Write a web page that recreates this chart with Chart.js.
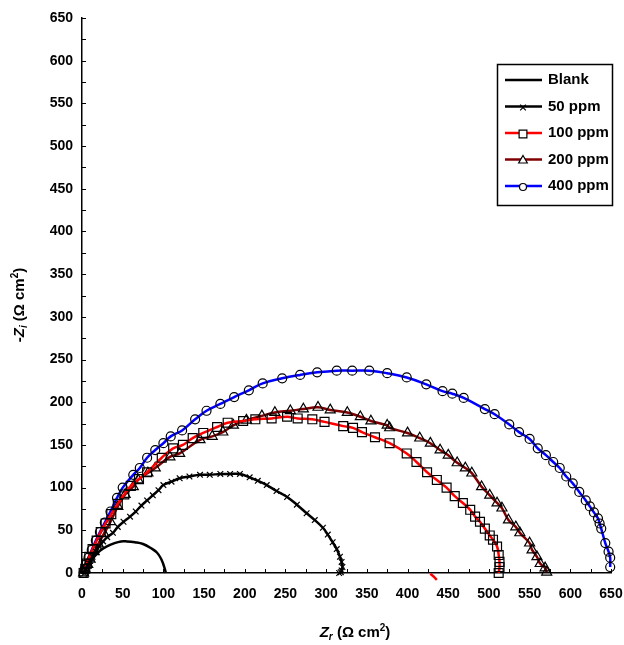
<!DOCTYPE html>
<html>
<head>
<meta charset="utf-8">
<title>Nyquist plot</title>
<script src="https://cdn.jsdelivr.net/npm/chart.js@4.4.1/dist/chart.umd.min.js"></script>
<style>
  html, body { margin: 0; padding: 0; background: #fff; }
  #wrap { width: 624px; height: 645px; }
</style>
</head>
<body>
<div id="wrap"><canvas id="chart" width="624" height="645"></canvas></div>
<script>
'use strict'

// Nyquist plots: Zr and -Zi in ohm cm2

// Global Variables
let seriesNames = ['Blank', '50 ppm', '100 ppm', '200 ppm', '400 ppm'];
let axisTicks = [0, 50, 100, 150, 200, 250, 300, 350, 400, 450, 500, 550, 600, 650];

let blankZr = [2, 4, 8, 15, 22, 30, 40, 48, 55, 65, 75, 85, 92, 97, 100, 102, 103];
let blankZi = [0, 4, 10, 19, 26, 31, 35, 37, 37, 36, 34, 29, 24, 17, 10, 4, 0];

let ppm50Zr = [3, 5, 7, 10, 13, 17, 21, 26, 31, 38, 44, 51, 59, 66, 73, 80, 87, 94, 100, 110, 120, 132, 145, 157, 170, 182, 194, 206, 216, 227, 239, 252, 264, 276, 286, 296, 302, 308, 313, 317, 319, 320, 319, 318, 316];
let ppm50Zi = [0, 4, 9, 14, 19, 25, 31, 37, 42, 47, 54, 60, 66, 72, 79, 85, 91, 97, 103, 107, 111, 113, 115, 115, 116, 116, 116, 112, 108, 103, 96, 89, 80, 70, 62, 53, 45, 36, 28, 19, 13, 7, 3, 1, 0];

let ppm100Zr = [2, 4, 6, 9, 13, 18, 23, 29, 36, 44, 52, 60, 70, 80, 98, 112, 124, 136, 149, 166, 179, 198, 213, 233, 252, 265, 283, 298, 321, 333, 344, 360, 378, 399, 411, 424, 436, 448, 458, 468, 477, 483, 489, 495, 501, 505, 510, 512, 513, 513, 512];
let ppm100Zi = [0, 5, 11, 19, 28, 38, 48, 58, 69, 81, 92, 102, 110, 118, 135, 146, 150, 158, 164, 171, 176, 178, 180, 181, 183, 181, 180, 177, 172, 170, 165, 159, 152, 140, 130, 118, 109, 100, 90, 82, 74, 66, 60, 52, 44, 39, 31, 21, 13, 7, 0];
// a short piece of the red fit that shows below the axis near 430
let tailZr = [428, 432, 436];
let tailZi = [-1, -4, -8];

let ppm200Zr = [2, 4, 7, 10, 15, 20, 27, 35, 44, 53, 63, 69, 81, 90, 108, 120, 145, 160, 173, 186, 202, 221, 237, 256, 272, 290, 305, 326, 342, 355, 375, 378, 400, 415, 428, 440, 450, 461, 471, 479, 491, 501, 510, 516, 524, 533, 538, 550, 553, 559, 563, 569, 571];
let ppm200Zi = [0, 4, 10, 16, 25, 34, 46, 60, 78, 92, 101, 109, 117, 123, 136, 140, 156, 160, 165, 173, 179, 184, 188, 190, 192, 194, 191, 188, 183, 178, 173, 170, 164, 158, 152, 144, 138, 129, 123, 117, 101, 91, 82, 76, 62, 54, 47, 35, 27, 19, 11, 6, 1];

let ppm400Zr = [2, 3, 5, 8, 12, 17, 22, 28, 35, 43, 50, 63, 71, 80, 90, 100, 109, 123, 139, 153, 170, 187, 205, 222, 246, 268, 289, 313, 332, 353, 375, 399, 423, 443, 455, 469, 495, 507, 525, 537, 550, 560, 570, 579, 587, 595, 603, 611, 619, 624, 629, 634, 636, 638, 643, 647, 649, 649];
let ppm400Zi = [0, 4, 10, 18, 27, 38, 48, 59, 72, 88, 100, 115, 123, 135, 144, 152, 160, 167, 180, 190, 198, 206, 214, 222, 228, 232, 235, 237, 237, 237, 234, 229, 221, 213, 210, 205, 192, 186, 174, 165, 157, 146, 138, 130, 123, 113, 105, 95, 85, 78, 71, 64, 58, 52, 35, 25, 18, 7];

let fontFamily = '"Liberation Sans", Arial, sans-serif';

// Global Functions
function toPoints(zr, zi) {
    let pts = [];
    for (let i = 0; i < zr.length; i++) {
        pts.push({ x: zr[i], y: zi[i] });
    }
    return pts;
}

// draws text made of pieces (italic, subscript, superscript), centred on x,y
function drawRich(ctx, parts, x, y, size) {
    let widths = [];
    let total = 0;
    for (let i = 0; i < parts.length; i++) {
        let p = parts[i];
        let s = (p.sub || p.sup) ? Math.round(size * 0.68) : size;
        p.font = (p.italic ? 'italic ' : '') + 'bold ' + s + 'px ' + fontFamily;
        ctx.font = p.font;
        widths.push(ctx.measureText(p.t).width);
        total += widths[i];
    }
    let cx = x - total / 2;
    ctx.textBaseline = 'middle';
    ctx.textAlign = 'left';
    for (let i = 0; i < parts.length; i++) {
        let p = parts[i];
        ctx.font = p.font;
        let dy = p.sub ? size * 0.3 : (p.sup ? -size * 0.35 : 0);
        ctx.fillText(p.t, cx, y + dy);
        cx += widths[i];
    }
}

// inward tick marks, axis titles and the boxed legend
const extras = {
    id: 'extras',
    afterDraw(chart) {
        const ctx = chart.ctx;
        const xs = chart.scales.x;
        const ys = chart.scales.y;
        const area = chart.chartArea;
        ctx.save();
        ctx.strokeStyle = '#000';
        ctx.fillStyle = '#000';
        ctx.lineWidth = 1;
        for (let v = 0; v <= 650; v += 25) {
            let px = Math.round(xs.getPixelForValue(v)) + 0.5;
            ctx.beginPath();
            ctx.moveTo(px, area.bottom);
            ctx.lineTo(px, area.bottom - 4);
            ctx.stroke();
            let py = Math.round(ys.getPixelForValue(v)) + 0.5;
            ctx.beginPath();
            ctx.moveTo(area.left, py);
            ctx.lineTo(area.left + 4, py);
            ctx.stroke();
        }

        // axis titles
        drawRich(ctx, [
            { t: 'Z', italic: true },
            { t: 'r', italic: true, sub: true },
            { t: ' (\u03A9 cm' },
            { t: '2', sup: true },
            { t: ')' }
        ], 355, 633, 15);

        ctx.save();
        ctx.translate(20, 305);
        ctx.rotate(-Math.PI / 2);
        drawRich(ctx, [
            { t: '-' },
            { t: 'Z', italic: true },
            { t: 'i', italic: true, sub: true },
            { t: ' (\u03A9 cm' },
            { t: '2', sup: true },
            { t: ')' }
        ], 0, 0, 15);
        ctx.restore();

        // legend box
        ctx.lineWidth = 1.5;
        ctx.strokeStyle = '#000';
        ctx.fillStyle = '#fff';
        ctx.fillRect(497, 64, 115, 141);
        ctx.strokeRect(497.5, 64.5, 115, 141);
        let sets = chart.data.datasets;
        let row = 0;
        for (let i = 0; i < sets.length; i++) {
            let ds = sets[i];
            if (ds.hideInLegend) continue;
            let ly = 80 + row * 26.5;
            ctx.strokeStyle = ds.borderColor;
            ctx.lineWidth = 2.5;
            ctx.beginPath();
            ctx.moveTo(505, ly);
            ctx.lineTo(542, ly);
            ctx.stroke();
            if (ds.pointStyle && ds.pointRadius > 0) {
                let r = ds.pointRadius;
                if (ds.pointStyle === 'circle') r = 3.5;
                if (ds.pointStyle === 'rect') r = 5.5;
                if (ds.pointStyle === 'triangle') r = 5;
                ctx.lineWidth = ds.pointBorderWidth;
                ctx.strokeStyle = ds.pointBorderColor;
                ctx.fillStyle = ds.pointStyle === 'crossRot' ? 'rgba(0,0,0,0)' : '#fff';
                Chart.helpers.drawPoint(ctx, { pointStyle: ds.pointStyle, radius: r, rotation: 0, borderWidth: ds.pointBorderWidth }, 523, ly + 1);
            }
            ctx.fillStyle = '#000';
            ctx.font = 'bold 15px ' + fontFamily;
            ctx.textAlign = 'left';
            ctx.textBaseline = 'middle';
            ctx.fillText(ds.label, 548, ly);
            row++;
        }
        ctx.restore();
    }
};

function makeSet(name, zr, zi, color, style, radius) {
    return {
        label: name,
        data: toPoints(zr, zi),
        showLine: true,
        borderColor: color,
        borderWidth: 2.5,
        tension: 0.4,
        pointStyle: style || 'circle',
        pointRadius: radius || 0,
        pointHoverRadius: radius || 0,
        pointBorderColor: '#000',
        pointBackgroundColor: 'rgba(0,0,0,0)',
        pointBorderWidth: 1.2,
        clip: false
    };
}

let datasets = [
    makeSet(seriesNames[0], blankZr, blankZi, '#000000', 'circle', 0),
    makeSet(seriesNames[1], ppm50Zr, ppm50Zi, '#000000', 'crossRot', 4),
    makeSet(seriesNames[2], ppm100Zr, ppm100Zi, '#FF0000', 'rect', 6.3),
    makeSet(seriesNames[3], ppm200Zr, ppm200Zi, '#800000', 'triangle', 5.8),
    makeSet(seriesNames[4], ppm400Zr, ppm400Zi, '#0000FF', 'circle', 4.5)
];
let tail = makeSet('', tailZr, tailZi, '#FF0000', 'circle', 0);
tail.hideInLegend = true;
tail.tension = 0;
datasets.push(tail);

function axisOptions(isX) {
    return {
        type: 'linear',
        min: 0,
        max: 650,
        afterBuildTicks: function (scale) {
            scale.ticks = axisTicks.map(v => ({ value: v }));
        },
        afterFit: function (scale) {
            if (isX) scale.height = 72;
            else scale.width = 82;
            // keep the label overhang from shrinking the plot
            scale.paddingLeft = 0;
            scale.paddingRight = 0;
            scale.paddingTop = 0;
            scale.paddingBottom = 0;
        },
        ticks: {
            color: '#000',
            font: { family: fontFamily, size: 14, weight: 'bold' },
            padding: isX ? 13 : 9,
            maxRotation: 0,
            autoSkip: false
        },
        grid: { display: false, drawTicks: false },
        border: { display: true, color: '#000', width: 1.5 }
    };
}

const myChart = new Chart(document.getElementById('chart'), {
    type: 'scatter',
    data: { datasets: datasets },
    options: {
        responsive: false,
        animation: false,
        layout: { padding: { top: 18, right: 13, left: 0, bottom: 0 } },
        scales: {
            x: axisOptions(true),
            y: axisOptions(false)
        },
        plugins: {
            legend: { display: false },
            tooltip: { enabled: false }
        }
    },
    plugins: [extras]
});
console.log(myChart.chartArea);
</script>
</body>
</html>
